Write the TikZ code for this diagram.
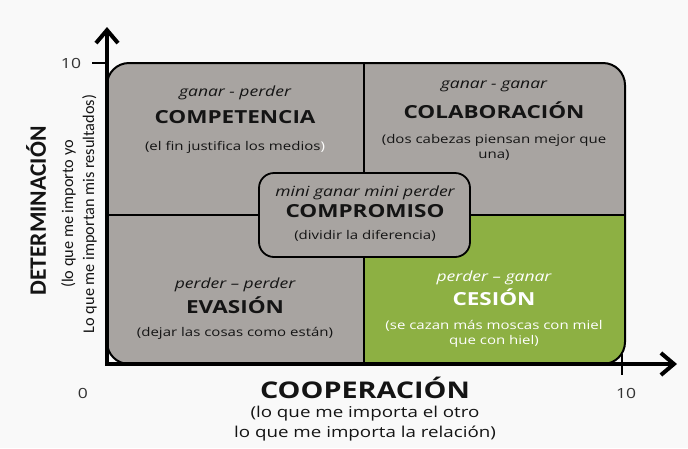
\documentclass[tikz,border=0pt]{standalone}
\usepackage{fontspec}
\setmainfont[FakeStretch=1.25]{Open Sans}
\newfontfamily\carl{Carlito}
\usetikzlibrary{arrows.meta}
\definecolor{boxgray}{RGB}{168,164,161}
\definecolor{cesgreen}{RGB}{141,176,67}
\definecolor{bg}{RGB}{249,249,249}
\definecolor{ink}{RGB}{20,20,20}
\tikzset{
  sub/.style={font=\fontsize{14}{16}\selectfont\itshape, inner sep=0pt, text=ink},
  ttl/.style={font=\fontsize{18}{20}\selectfont\bfseries, inner sep=0pt, text=ink},
  desc/.style={font=\fontsize{12}{15}\selectfont, inner sep=0pt, align=center, text=ink},
  axisline/.style={line width=4pt, -{Straight Barb[length=13pt,width=22pt,line width=4pt]}},
  tick/.style={line width=1.6pt},
  num/.style={font=\fontsize{14}{16}\selectfont, inner sep=0pt, text=black!80},
}
\begin{document}
\begin{tikzpicture}[x=1pt,y=-1pt]
\fill[bg] (0,0) rectangle (688,448);
\useasboundingbox (0,0) rectangle (688,448);
% main box
\path[fill=boxgray, rounded corners=22pt] (107,63) -- (625,63) -- (625,364) -- (107,364) -- cycle;
\begin{scope}
\clip (364,215) rectangle (640,370);
\fill[cesgreen, rounded corners=22pt] (100,63) -- (625,63) -- (625,364) -- (100,364) -- cycle;
\end{scope}
\draw[line width=1.6pt] (364,63) -- (364,364);
\draw[line width=1.6pt] (107,215) -- (625,215);
\draw[line width=2pt, rounded corners=22pt] (107,63) -- (625,63) -- (625,364) -- (107,364) -- cycle;
% compromiso box
\draw[line width=1.8pt, fill=boxgray, rounded corners=15pt] (259,173) rectangle (470,257);
\node[sub] (cmpS) at (365,193) {mini ganar mini perder};
\node[ttl] (cmpT) at (365,211) {COMPROMISO};
\node[desc] (cmpD) at (365,236) {(dividir la diferencia)};
% competencia
\node[sub] (coS) at (235,93) {ganar - perder};
\node[ttl] (coT) at (235,117) {COMPETENCIA};
\node[desc] (coD) at (235,147) {(el fin justifica los medios\textcolor{white}{)}};
% colaboracion
\node[sub] (clS) at (494,86) {ganar - ganar};
\node[ttl] (clT) at (494,110) {COLABORACIÓN};
\node[desc] (clD) at (494,147) {(dos cabezas piensan mejor que\\una)};
% evasion
\node[sub] (evS) at (235,285) {perder -- perder};
\node[ttl] (evT) at (235,305) {EVASIÓN};
\node[desc] (evD) at (235,333) {(dejar las cosas como están)};
% cesion
\node[sub, text=white] (ceS) at (494,278) {perder -- ganar};
\node[ttl, text=white] (ceT) at (494,297) {CESIÓN};
\node[desc, text=white] (ceD) at (494,334) {(se cazan más moscas con miel\\que con hiel)};
% axes
\coordinate (O) at (107,364);
\coordinate (ytip) at (107,27);
\coordinate (xtip) at (677,364);
\draw[axisline] (O) ++(0,2pt) -- (ytip);
\draw[axisline] (O) ++(-2pt,0) -- (xtip);
\coordinate (ty1) at (92,63);
\coordinate (ty2) at (107,63);
\draw[tick] (ty1) -- (ty2);
\coordinate (tx1) at (622,354);
\coordinate (tx2) at (622,375);
\draw[tick] (tx1) -- (tx2);
\node[num] (n10y) at (71,63) {10};
\node[num] (n0) at (83,393) {0};
\node[num] (n10x) at (626,393) {10};
% axis labels
\node[font=\fontsize{23}{25}\selectfont\bfseries, inner sep=0pt, text=ink] (coop) at (365,388) {COOPERACIÓN};
\node[font=\fontsize{15}{20}\selectfont, inner sep=0pt, align=center, text=ink] (coopD) at (365,424) {(lo que me importa el otro\\lo que me importa la relación)};
\node[font=\carl\fontsize{23.5}{25}\selectfont\bfseries, inner sep=0pt, rotate=90, text=ink] (det) at (36,211) {DETERMINACIÓN};
\node[font=\carl\fontsize{16.3}{21}\selectfont, inner sep=0pt, rotate=90, align=center, text=ink] (detD) at (79,214) {(lo que me importo yo\\Lo que me importan mis resultados)};
\end{tikzpicture}
\end{document}
